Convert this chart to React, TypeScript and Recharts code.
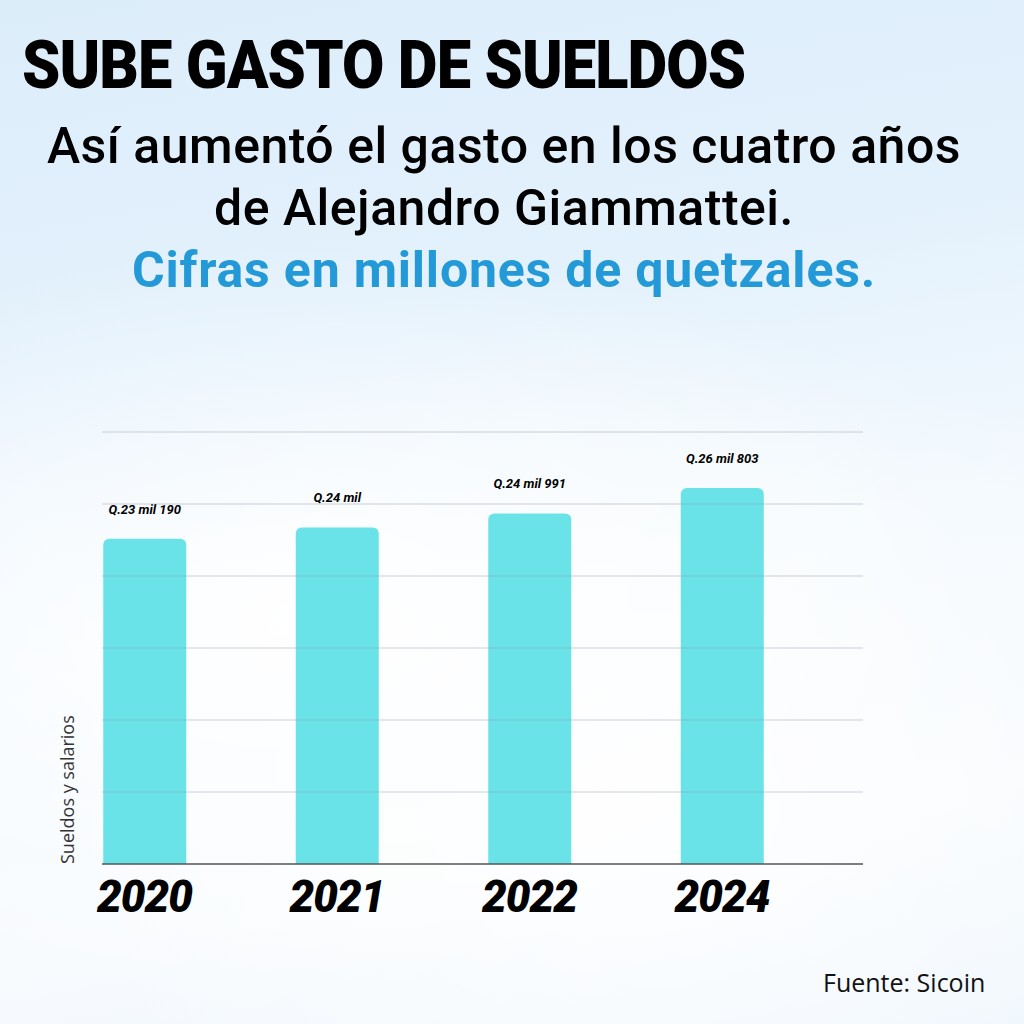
import React from 'react';
import { BarChart, Bar, XAxis, YAxis, LabelList, ReferenceLine } from 'recharts';

// Gasto en sueldos y salarios (millones de quetzales)
const years = ['2020', '2021', '2022', '2024'];
const sueldos = [23190, 24000, 24991, 26803];
const etiquetas = ['Q.23 mil 190', 'Q.24 mil', 'Q.24 mil 991', 'Q.26 mil 803'];

const Y_MAX = 30800;
const yTicks = Array.from({ length: 7 }, (_, i) => (Y_MAX / 6) * i);
const X_DOMAIN = [-0.2208, 3.7324];

const data = years.map((year, i) => ({
  pos: i,
  year,
  value: sueldos[i],
  label: etiquetas[i],
}));

const FONT = 'Roboto, "Open Sans", sans-serif';
const MARGIN = { top: 432, right: 161, bottom: 100, left: 52 };

function YLabel(props: any) {
  const { viewBox } = props;
  const x = viewBox.x + viewBox.width - 28;
  const y = viewBox.y + viewBox.height;
  return (
    <text
      x={x}
      y={y}
      transform={`rotate(-90 ${x} ${y})`}
      fill="#333"
      fontSize={18}
      fontFamily='"Open Sans", sans-serif'
      textAnchor="start"
    >
      Sueldos y salarios
    </text>
  );
}

// etiqueta de valor sobre cada barra, sin partir en lineas
function ValueLabel(props: any) {
  const { x, y, width, value } = props;
  return (
    <text
      x={x + width / 2}
      y={y - 25}
      textAnchor="middle"
      fill="#000"
      fontSize={13}
      fontWeight={700}
      fontStyle="italic"
      fontFamily={FONT}
    >
      {value}
    </text>
  );
}

export default function App() {
  return (
    <div
      style={{
        position: 'absolute',
        left: 0,
        top: 0,
        width: 1024,
        height: 1024,
        overflow: 'hidden',
        fontFamily: FONT,
        background:
          'radial-gradient(ellipse 700px 380px at 300px 620px, rgba(255,255,255,0.95), rgba(255,255,255,0) 100%),' +
          'radial-gradient(ellipse 600px 500px at 650px 800px, rgba(255,255,255,0.8), rgba(255,255,255,0) 100%),' +
          'linear-gradient(170deg, #dcedfa 0%, #e3f1fc 30%, #f3f9fe 55%, #f8fbfe 80%, #eef6fd 100%)',
      }}
    >
      {/* Titulos */}
      <div
        style={{
          position: 'absolute',
          left: 22,
          top: 33,
          fontSize: 66,
          lineHeight: 1,
          fontWeight: 900,
          color: '#000',
          whiteSpace: 'nowrap',
          letterSpacing: -1,
          transform: 'scaleX(0.93)',
          transformOrigin: 'left top',
        }}
      >
        SUBE GASTO DE SUELDOS
      </div>
      <div
        style={{
          position: 'absolute',
          left: 0,
          width: 1008,
          top: 115,
          textAlign: 'center',
          fontSize: 50,
          lineHeight: '62px',
          fontWeight: 500,
          letterSpacing: 0.5,
          color: '#000',
        }}
      >
        <div>Así aumentó el gasto en los cuatro años</div>
        <div>de Alejandro Giammattei.</div>
        <div style={{ color: '#2399d7', fontWeight: 700, letterSpacing: 0.8 }}>
          Cifras en millones de quetzales.
        </div>
      </div>

      {/* Grafica */}
      <div style={{ position: 'absolute', left: 0, top: 0, zIndex: 1 }}>
        <BarChart width={1024} height={1024} data={data} margin={MARGIN}>
          <XAxis
            type="number"
            dataKey="pos"
            domain={X_DOMAIN}
            ticks={[0, 1, 2, 3]}
            tickFormatter={(v: number) => years[v]}
            height={60}
            tickLine={false}
            tickSize={0}
            tickMargin={17}
            axisLine={{ stroke: '#555', strokeWidth: 1.5 }}
            tick={{
              fill: '#000',
              fontSize: 44,
              fontWeight: 900,
              fontStyle: 'italic',
              fontFamily: FONT,
              letterSpacing: -1,
            }}
            allowDataOverflow
          />
          <YAxis
            domain={[0, Y_MAX]}
            ticks={yTicks}
            width={50}
            tick={false}
            tickLine={false}
            axisLine={false}
            label={{ value: 'Sueldos y salarios', content: <YLabel /> }}
          />
          <Bar dataKey="value" fill="#69e3e8" barSize={83} radius={[6, 6, 0, 0]} isAnimationActive={false}>
            <LabelList dataKey="label" content={<ValueLabel />} />
          </Bar>
        </BarChart>
      </div>

      {/* lineas de cuadricula por encima de las barras (misma area de trazado) */}
      <div style={{ position: 'absolute', left: 0, top: 0, zIndex: 2, pointerEvents: 'none' }}>
        <BarChart width={1024} height={1024} data={data} margin={MARGIN}>
          <XAxis
            type="number"
            dataKey="pos"
            domain={X_DOMAIN}
            ticks={[0, 1, 2, 3]}
            height={60}
            tick={false}
            tickLine={false}
            axisLine={false}
            allowDataOverflow
          />
          <YAxis domain={[0, Y_MAX]} ticks={yTicks} width={50} tick={false} tickLine={false} axisLine={false} />
          <Bar dataKey="value" fill="#ffffff" fillOpacity={0} barSize={83} isAnimationActive={false} />
          {yTicks.slice(1).map((t) => (
            <ReferenceLine key={t} y={t} stroke="#8e9aa3" strokeOpacity={0.45} strokeWidth={1} />
          ))}
        </BarChart>
      </div>

      <div
        style={{
          position: 'absolute',
          left: 823,
          top: 965,
          fontSize: 25,
          fontFamily: '"Open Sans", sans-serif',
          color: '#111',
          whiteSpace: 'nowrap',
        }}
      >
        Fuente: Sicoin
      </div>
    </div>
  );
}
